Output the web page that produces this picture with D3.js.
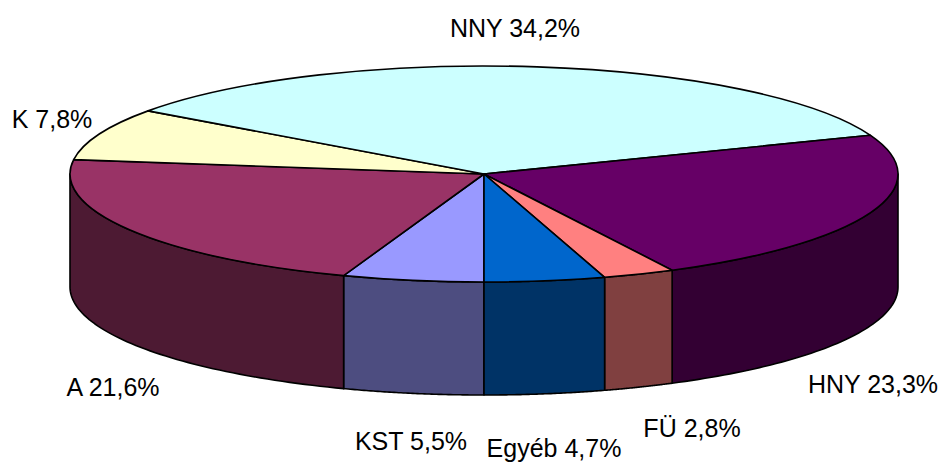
<!DOCTYPE html>
<html>
<head>
<meta charset="utf-8">
<script src="https://cdn.jsdelivr.net/npm/d3@7"></script>
<style>
html,body{margin:0;padding:0;background:#fff;}
svg{display:block;}
text{font-family:"Liberation Sans",Arial,sans-serif;}
</style>
</head>
<body>
<svg id="chart" width="945" height="464"></svg>
<script>
// ---- data ----
const categories = ["KST", "A", "K", "NNY", "HNY", "FÜ", "Egyéb"];
const values = [5.5, 21.6, 7.8, 34.2, 23.3, 2.8, 4.7];
const valueLabels = ["5,5%", "21,6%", "7,8%", "34,2%", "23,3%", "2,8%", "4,7%"];
const colors = ["#9999FF", "#993366", "#FFFFCC", "#CCFFFF", "#660066", "#FF8080", "#0066CC"];

// ---- layout ----
const W = 945, H = 464;
const cx = 484, cy = 174, rx = 414, ry = 108, depth = 113;
const labelPos = { // label centre x, baseline y
  "KST": [411, 450], "A": [113, 396], "K": [52, 128], "NNY": [515, 37],
  "HNY": [873, 393], "FÜ": [692, 437], "Egyéb": [554, 457]
};

const svg = d3.select("#chart");
const data = categories.map((c, i) => ({cat: c, value: values[i], label: valueLabels[i], color: colors[i]}));
const pie = d3.pie().sort(null).value(d => d.value).startAngle(Math.PI).endAngle(3 * Math.PI);
const arcs = pie(data);

const px = a => cx + rx * Math.sin(a);
const py = a => cy - ry * Math.cos(a);

// side walls (front half: angles between PI/2 and 3PI/2, modulo 2PI)
const gSide = svg.append("g");
arcs.forEach(d => {
  // check ranges [PI/2, 3PI/2] and [5PI/2, 7PI/2]
  [[Math.PI / 2, 3 * Math.PI / 2], [5 * Math.PI / 2, 7 * Math.PI / 2]].forEach(([lo, hi]) => {
    const a0 = Math.max(d.startAngle, lo), a1 = Math.min(d.endAngle, hi);
    if (a1 <= a0) return;
    const n = 60, pts = [];
    for (let i = 0; i <= n; i++) { const a = a0 + (a1 - a0) * i / n; pts.push([px(a), py(a)]); }
    for (let i = n; i >= 0; i--) { const a = a0 + (a1 - a0) * i / n; pts.push([px(a), py(a) + depth]); }
    const c = d3.rgb(d.data.color);
    const side = d3.rgb(Math.round(c.r / 2), Math.round(c.g / 2), Math.round(c.b / 2));
    gSide.append("path")
      .attr("d", d3.line()(pts) + "Z")
      .attr("fill", side)
      .attr("stroke", "#000")
      .attr("stroke-width", 1.6)
      .attr("stroke-linejoin", "round");
  });
});

// top faces
const gTop = svg.append("g");
arcs.forEach(d => {
  const a0 = d.startAngle, a1 = d.endAngle;
  const large = (a1 - a0) > Math.PI ? 1 : 0;
  const p = `M${cx},${cy}L${px(a0)},${py(a0)}A${rx},${ry} 0 ${large} 1 ${px(a1)},${py(a1)}Z`;
  gTop.append("path")
    .attr("d", p)
    .attr("fill", d.data.color)
    .attr("stroke", "#000")
    .attr("stroke-width", 1.6)
    .attr("stroke-linejoin", "round");
});

// labels
const gLab = svg.append("g");
arcs.forEach(d => {
  const [x, y] = labelPos[d.data.cat];
  gLab.append("text")
    .attr("x", x).attr("y", y)
    .attr("text-anchor", "middle")
    .attr("font-size", 25)
    .attr("fill", "#000")
    .text(d.data.cat + " " + d.data.label);
});
</script>
</body>
</html>
